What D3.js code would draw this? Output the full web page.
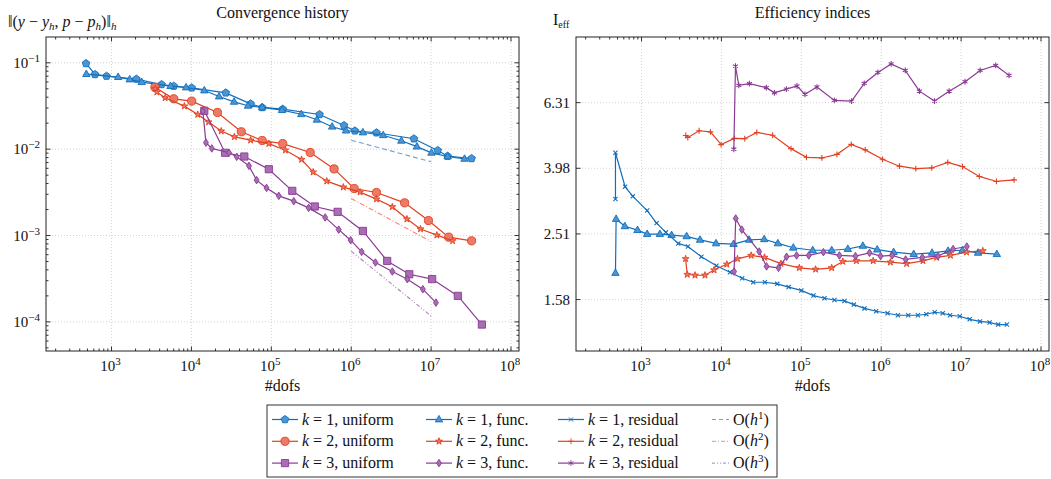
<!DOCTYPE html>
<meta charset="utf-8">
<head>
<script src="https://d3js.org/d3.v7.min.js"></script>
</head>
<style>
  body { margin: 0; background: #fff; }
  svg { font-family: "Liberation Serif", "DejaVu Serif", serif; }
</style>
<body>
<script>
'use strict';

// ---- data: convergence history, [dofs, error] ----
const convK1Uniform = [[480,0.0982],[621,0.0733],[866,0.0701],[2046,0.0648],[4227,0.0561],[6012,0.0537],[10070,0.0513],[26900,0.0449],[55100,0.0335],[76900,0.0304],[139000,0.0291],[401000,0.0252],[813000,0.0188],[1110000,0.0163],[2070000,0.0155],[6090000,0.0132],[12100000,0.00966],[16100000,0.0083],[32100000,0.0078]];
const convK1Func = [[484,0.074],[1211,0.0683],[1690,0.0641],[2384,0.0597],[5470,0.0537],[8570,0.0518],[14500,0.0478],[22200,0.0407],[34200,0.0353],[51100,0.0318],[76900,0.0304],[136000,0.0283],[237000,0.0254],[372000,0.0219],[577000,0.0182],[861000,0.0164],[1400000,0.0156],[2510000,0.0145],[4240000,0.0125],[6640000,0.0107],[10100000,0.00907],[16100000,0.00822],[26200000,0.00772]];
const convK2Uniform = [[3491,0.0522],[6012,0.0383],[10070,0.036],[21200,0.0266],[42100,0.0159],[76900,0.0126],[139000,0.0116],[307000,0.00915],[610000,0.00591],[1090000,0.0035],[2070000,0.00315],[4660000,0.00239],[9260000,0.00149],[16600000,0.000957],[32100000,0.000868]];
const convK2Func = [[3524,0.05],[3697,0.0457],[4693,0.0393],[8160,0.0315],[12000,0.0252],[16400,0.0206],[23600,0.0162],[34500,0.0139],[55100,0.0127],[93100,0.0116],[150000,0.00973],[239000,0.00759],[334000,0.00542],[494000,0.00426],[797000,0.00363],[1290000,0.00318],[2070000,0.00264],[3270000,0.00215],[4980000,0.00155],[7360000,0.00119],[11800000,0.00101],[18600000,0.000868]];
const convK3Uniform = [[14500,0.0278],[26400,0.00908],[45900,0.00822],[93100,0.00586],[183000,0.00329],[350000,0.00217],[676000,0.00188],[1400000,0.00113],[2820000,0.000508],[5330000,0.000356],[10300000,0.000313],[21600000,0.0002],[43200000,0.0000931]];
const convK3Func = [[13900,0.0275],[15200,0.0119],[18000,0.0102],[29600,0.00908],[36900,0.00815],[52500,0.00641],[65400,0.00438],[87100,0.00356],[124000,0.00288],[191000,0.0025],[293000,0.00209],[472000,0.00162],[698000,0.00117],[984000,0.000883],[1350000,0.000647],[2010000,0.000487],[3270000,0.000383],[5040000,0.000312],[7880000,0.000239],[11500000,0.000167]];

// reference slopes
const rateH1 = [[1e6,0.0127],[1e7,0.00714]];
const rateH2 = [[1e6,0.00269],[1e7,0.00085]];
const rateH3 = [[1e6,0.000659],[1e7,0.000117]];

// ---- data: efficiency indices, [dofs, I_eff] ----
const effK1Func = [[472,1.91],[481,2.79],[618,2.65],[891,2.58],[1177,2.51],[1698,2.51],[2380,2.49],[3673,2.47],[5400,2.41],[8570,2.35],[14200,2.34],[22200,2.41],[34300,2.42],[50900,2.35],[79400,2.28],[139000,2.24],[240000,2.24],[382000,2.26],[589000,2.31],[891000,2.25],[1430000,2.21],[2550000,2.18],[4330000,2.2],[6870000,2.23],[10400000,2.24],[16300000,2.2],[28000000,2.18]];
const effK1Res = [[472,3.21],[472,4.44],[623,3.5],[778,3.27],[1177,2.96],[1543,2.71],[2019,2.54],[2884,2.35],[3815,2.3],[5610,2.14],[8650,2.01],[12800,1.92],[18200,1.84],[25000,1.79],[35000,1.79],[50000,1.77],[69400,1.73],[100000,1.69],[142000,1.63],[195000,1.6],[260000,1.58],[347000,1.57],[454000,1.53],[618000,1.49],[865000,1.46],[1200000,1.44],[1620000,1.42],[2180000,1.42],[2880000,1.42],[3670000,1.43],[4670000,1.45],[5890000,1.44],[7280000,1.42],[9620000,1.41],[12800000,1.38],[17200000,1.36],[22700000,1.35],[29100000,1.33],[37400000,1.33]];
const effK2Func = [[3560,2.11],[3740,1.89],[4670,1.88],[6230,1.88],[8090,1.95],[11700,2.03],[15900,2.11],[23600,2.16],[34600,2.13],[55600,2.04],[94400,1.98],[151000,1.96],[240000,1.98],[331000,2.07],[490000,2.08],[794000,2.08],[1300000,2.06],[2080000,2.04],[3330000,2.08],[4950000,2.13],[7350000,2.16],[11700000,2.21],[18700000,2.23]];
const effK2Res = [[3580,5.01],[3800,4.94],[5260,5.18],[7290,5.14],[9910,4.7],[14500,4.91],[19600,4.9],[27700,5.12],[43800,5.02],[74300,4.57],[116000,4.3],[181000,4.28],[279000,4.39],[422000,4.71],[631000,4.53],[1040000,4.24],[1690000,4.04],[2710000,3.97],[4300000,3.99],[6810000,4.15],[10400000,4.03],[16900000,3.76],[27700000,3.63],[46000000,3.67]];
const effK3Func = [[14400,1.93],[15100,2.8],[18000,2.59],[29700,2.22],[36700,2.0],[51900,1.98],[65400,2.14],[87300,2.16],[124000,2.16],[189000,2.21],[300000,2.16],[476000,2.15],[714000,2.2],[982000,2.15],[1370000,2.16],[2020000,2.1],[3270000,2.13],[5140000,2.15],[7940000,2.26],[11800000,2.3]];
const effK3Res = [[14300,4.55],[15000,8.15],[16500,7.12],[22400,7.21],[36500,7.01],[46000,6.76],[65000,6.94],[88300,7.09],[111000,6.69],[157000,7.04],[259000,6.41],[426000,6.38],[613000,7.22],[909000,7.8],[1330000,8.28],[2000000,7.91],[3010000,6.84],[4640000,6.38],[7080000,6.84],[11200000,7.31],[17300000,7.91],[27100000,8.19],[39800000,7.64]];

// ticks
const xTickExps = [3, 4, 5, 6, 7, 8];
const convTickExps = [-1, -2, -3, -4];
const effTickExps = [0.2, 0.4, 0.6, 0.8];
const effTickLabels = ["1.58", "2.51", "3.98", "6.31"];

const blue = "#0f6fbd", red = "#e2401f", purple = "#8a3a94";
const blueFill = "#4f94d2", redFill = "#ec7a66", purpleFill = "#a86db2";
const blueRate = "#6a9fd8", redRate = "#ef8a78", purpleRate = "#b27fbb";

const svg = d3.select("body").append("svg")
  .attr("width", 1051).attr("height", 479);

// marker shapes
function markerPath(type, r) {
  if (type === "pentagon") {
    const p = d3.range(5).map(i => {
      const a = -Math.PI / 2 + i * 2 * Math.PI / 5;
      return [r * Math.cos(a), r * Math.sin(a)];
    });
    return "M" + p.join("L") + "Z";
  }
  if (type === "circle") return d3.symbol(d3.symbolCircle, Math.PI * r * r)();
  if (type === "square") return `M${-r},${-r}H${r}V${r}H${-r}Z`;
  if (type === "triangle") return `M0,${-r * 1.1}L${r},${r * 0.65}L${-r},${r * 0.65}Z`;
  if (type === "diamond") return `M0,${-r * 1.45}L${r * 0.95},0L0,${r * 1.45}L${-r * 0.95},0Z`;
  if (type === "star") return d3.symbol(d3.symbolStar, r * r * 2)();
  if (type === "x") return `M${-r},${-r}L${r},${r}M${-r},${r}L${r},${-r}`;
  if (type === "plus") return `M${-r},0H${r}M0,${-r}V${r}`;
  if (type === "asterisk") {
    let s = "";
    [90, 30, -30].forEach(d => {
      const a = d * Math.PI / 180, c = r * Math.cos(a), q = r * Math.sin(a);
      s += `M${-c},${-q}L${c},${q}`;
    });
    return s;
  }
}

const markerSize = { pentagon: 4.0, circle: 4.1, square: 3.6, triangle: 3.7, diamond: 2.6, star: 2.7, x: 2.1, plus: 2.9, asterisk: 2.9 };
const strokeOnly = { x: true, plus: true, asterisk: true };

function drawSeries(g, x, y, data, color, fill, marker) {
  const line = d3.line().x(d => x(d[0])).y(d => y(d[1]));
  g.append("path").attr("d", line(data))
    .attr("fill", "none").attr("stroke", color).attr("stroke-width", 1.2);
  g.selectAll(null).data(data).enter().append("path")
    .attr("transform", d => `translate(${x(d[0])},${y(d[1])})`)
    .attr("d", markerPath(marker, markerSize[marker]))
    .attr("fill", strokeOnly[marker] ? "none" : fill)
    .attr("stroke", color).attr("stroke-width", strokeOnly[marker] ? 1.1 : 0.9);
}

function powLabel(sel, base, exp) {
  sel.append("tspan").text(base);
  sel.append("tspan").attr("dy", -6).attr("font-size", 11).text(exp);
}

function makePanel(opt) {
  const x = d3.scaleLog().domain([Math.pow(10, 2.18), Math.pow(10, 8.1)]).range([opt.left, opt.left + 473]);
  const y = d3.scaleLog().domain(opt.yDomain).range([351, 37]);
  const g = svg.append("g");
  const [x0, x1] = x.range(), [y1, y0] = y.range();

  // grid
  xTickExps.forEach(e => {
    g.append("line").attr("x1", x(Math.pow(10, e))).attr("x2", x(Math.pow(10, e)))
      .attr("y1", y0).attr("y2", y1)
      .attr("stroke", "#c8c8c8").attr("stroke-width", 0.8).attr("stroke-dasharray", "1,2");
  });
  opt.yTicks.forEach(v => {
    g.append("line").attr("x1", x0).attr("x2", x1).attr("y1", y(v)).attr("y2", y(v))
      .attr("stroke", "#c8c8c8").attr("stroke-width", 0.8).attr("stroke-dasharray", "1,2");
  });

  // x ticks (inward, top and bottom)
  for (let e = 2; e <= 8; e++) {
    for (let k = 1; k <= 9; k++) {
      const v = k * Math.pow(10, e);
      if (v < x.domain()[0] || v > x.domain()[1]) continue;
      const len = k === 1 ? 4.5 : 2.5;
      const px = x(v);
      g.append("line").attr("x1", px).attr("x2", px).attr("y1", y1).attr("y2", y1 - len).attr("stroke", "#333");
      g.append("line").attr("x1", px).attr("x2", px).attr("y1", y0).attr("y2", y0 + len).attr("stroke", "#333");
    }
  }
  xTickExps.forEach(e => {
    g.append("text").attr("x", x(Math.pow(10, e)) - 1).attr("y", 371)
      .attr("text-anchor", "middle").attr("font-size", 15).attr("fill", "#111")
      .call(s => powLabel(s, "10", e));
  });

  // y ticks
  opt.yMinor.forEach(v => {
    g.append("line").attr("x1", x0).attr("x2", x0 + 2.5).attr("y1", y(v)).attr("y2", y(v)).attr("stroke", "#333");
    g.append("line").attr("x1", x1).attr("x2", x1 - 2.5).attr("y1", y(v)).attr("y2", y(v)).attr("stroke", "#333");
  });
  opt.yTicks.forEach((v, i) => {
    g.append("line").attr("x1", x0).attr("x2", x0 + 4.5).attr("y1", y(v)).attr("y2", y(v)).attr("stroke", "#333");
    g.append("line").attr("x1", x1).attr("x2", x1 - 4.5).attr("y1", y(v)).attr("y2", y(v)).attr("stroke", "#333");
    const t = g.append("text").attr("x", x0 - 6).attr("y", y(v) + 5)
      .attr("text-anchor", "end").attr("font-size", 15).attr("fill", "#111");
    opt.yLabel(t, i);
  });

  // frame
  g.append("rect").attr("x", x0).attr("y", y0).attr("width", x1 - x0).attr("height", y1 - y0)
    .attr("fill", "none").attr("stroke", "#222").attr("stroke-width", 1);

  // titles
  g.append("text").attr("x", (x0 + x1) / 2).attr("y", 18).attr("text-anchor", "middle")
    .attr("font-size", 16).attr("fill", "#111").text(opt.title);
  g.append("text").attr("x", (x0 + x1) / 2).attr("y", 391).attr("text-anchor", "middle")
    .attr("font-size", 16).attr("fill", "#111").text("#dofs");

  return { g, x, y };
}

// ---- left panel ----
const convMinor = [];
for (let e = -5; e <= -1; e++) for (let k = 2; k <= 9; k++) {
  const v = k * Math.pow(10, e);
  if (v > 4.6e-5 && v < 0.199) convMinor.push(v);
}
const left = makePanel({
  left: 46, title: "Convergence history", yDomain: [4.6e-5, 0.199],
  yTicks: convTickExps.map(e => Math.pow(10, e)), yMinor: convMinor,
  yLabel: (t, i) => powLabel(t, "10", "\u2212" + (-convTickExps[i]))
});
[[rateH1, blueRate, "5,3"], [rateH2, redRate, "5,2,1,2"], [rateH3, purpleRate, "4,2,1,2,1,2"]].forEach(r => {
  left.g.append("path").attr("d", d3.line().x(d => left.x(d[0])).y(d => left.y(d[1]))(r[0]))
    .attr("fill", "none").attr("stroke", r[1]).attr("stroke-width", 1.1).attr("stroke-dasharray", r[2]);
});
drawSeries(left.g, left.x, left.y, convK1Uniform, blue, blueFill, "pentagon");
drawSeries(left.g, left.x, left.y, convK1Func, blue, blueFill, "triangle");
drawSeries(left.g, left.x, left.y, convK2Uniform, red, redFill, "circle");
drawSeries(left.g, left.x, left.y, convK2Func, red, redFill, "star");
drawSeries(left.g, left.x, left.y, convK3Uniform, purple, purpleFill, "square");
drawSeries(left.g, left.x, left.y, convK3Func, purple, purpleFill, "diamond");

// left y label
const yl = svg.append("text").attr("x", 8).attr("y", 27).attr("font-size", 16).attr("fill", "#111");
[["\u2016(", null], ["y", "i"], [" \u2212 ", null], ["y", "i"], ["h", "s"], [", ", null], ["p", "i"], [" \u2212 ", null], ["p", "i"], ["h", "s"], [")\u2016", null], ["h", "s"]]
  .forEach(([s, k], i, arr) => {
    const ts = yl.append("tspan").text(s);
    if (k === "i" || k === "s") ts.attr("font-style", "italic");
    if (k === "s") ts.attr("font-size", 11).attr("dy", 3);
    else if (i > 0 && arr[i - 1][1] === "s") ts.attr("dy", -3);
  });

// ---- right panel ----
const right = makePanel({
  left: 576, title: "Efficiency indices", yDomain: [1.105, 10.0],
  yTicks: effTickExps.map(e => Math.pow(10, e)), yMinor: [],
  yLabel: (t, i) => t.text(effTickLabels[i])
});
drawSeries(right.g, right.x, right.y, effK1Func, blue, blueFill, "triangle");
drawSeries(right.g, right.x, right.y, effK1Res, blue, blueFill, "x");
drawSeries(right.g, right.x, right.y, effK2Func, red, redFill, "star");
drawSeries(right.g, right.x, right.y, effK2Res, red, redFill, "plus");
drawSeries(right.g, right.x, right.y, effK3Func, purple, purpleFill, "diamond");
drawSeries(right.g, right.x, right.y, effK3Res, purple, purpleFill, "asterisk");

const ieff = svg.append("text").attr("x", 553).attr("y", 25).attr("font-size", 16).attr("fill", "#111");
ieff.append("tspan").text("I");
ieff.append("tspan").attr("font-size", 10).attr("dy", 3).text("eff");

// ---- legend ----
const legendRows = [
  [["1", "uniform", blue, blueFill, "pentagon"], ["1", "func.", blue, blueFill, "triangle"], ["1", "residual", blue, blueFill, "x"], ["1", blueRate, "4,3"]],
  [["2", "uniform", red, redFill, "circle"], ["2", "func.", red, redFill, "star"], ["2", "residual", red, redFill, "plus"], ["2", redRate, "4,2,1,2"]],
  [["3", "uniform", purple, purpleFill, "square"], ["3", "func.", purple, purpleFill, "diamond"], ["3", "residual", purple, purpleFill, "asterisk"], ["3", purpleRate, "3,2,1,2,1,2"]]
];
const legendColX = [272, 426, 558, 712];
const legend = svg.append("g");
legend.append("rect").attr("x", 267).attr("y", 405).attr("width", 510).attr("height", 72)
  .attr("fill", "#fff").attr("stroke", "#333").attr("stroke-width", 1);
legendRows.forEach((row, r) => {
  const cy = 419.5 + r * 21.8;
  row.forEach((item, c) => {
    const lx = legendColX[c];
    if (c < 3) {
      legend.append("line").attr("x1", lx).attr("x2", lx + 26).attr("y1", cy).attr("y2", cy)
        .attr("stroke", item[2]).attr("stroke-width", 1.2);
      legend.append("path").attr("transform", `translate(${lx + 13},${cy})`)
        .attr("d", markerPath(item[4], markerSize[item[4]]))
        .attr("fill", strokeOnly[item[4]] ? "none" : item[3])
        .attr("stroke", item[2]).attr("stroke-width", 0.9);
      const t = legend.append("text").attr("x", lx + 30).attr("y", cy + 5).attr("font-size", 16).attr("fill", "#111");
      t.append("tspan").attr("font-style", "italic").text("k");
      t.append("tspan").text(" = " + item[0] + ", " + item[1]);
    } else {
      legend.append("line").attr("x1", lx).attr("x2", lx + 17).attr("y1", cy).attr("y2", cy)
        .attr("stroke", item[1]).attr("stroke-width", 1).attr("stroke-dasharray", item[2]);
      const t = legend.append("text").attr("x", lx + 21).attr("y", cy + 5).attr("font-size", 16).attr("fill", "#111");
      t.append("tspan").text("O(");
      t.append("tspan").attr("font-style", "italic").text("h");
      t.append("tspan").attr("font-size", 11).attr("dy", -6).text(item[0]);
      t.append("tspan").attr("dy", 6).text(")");
    }
  });
});
</script>
</body>
